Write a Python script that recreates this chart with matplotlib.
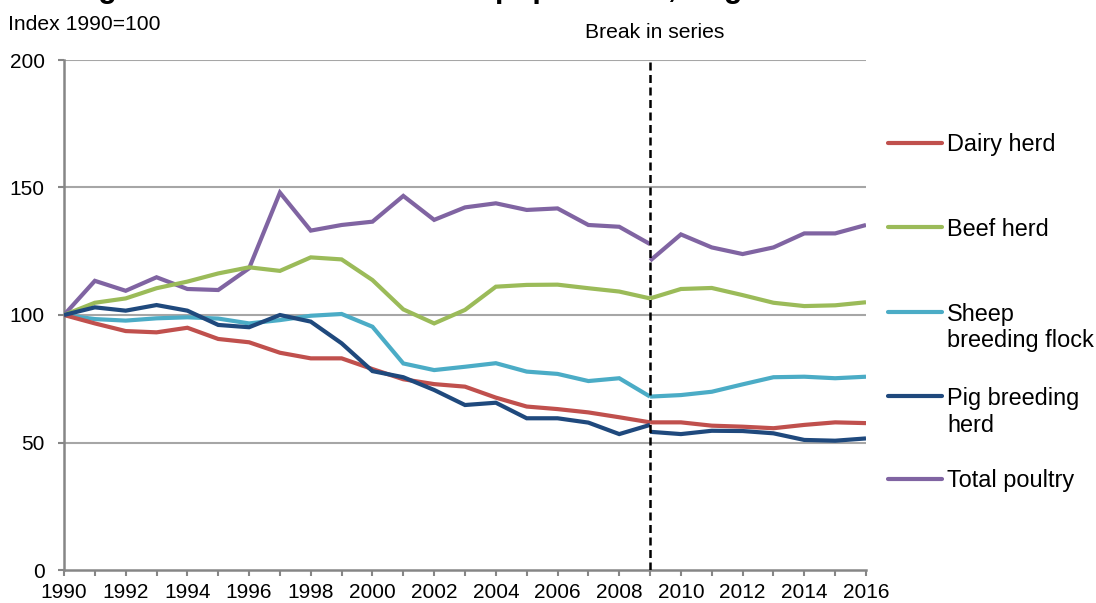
import matplotlib
matplotlib.use("Agg")
import matplotlib.pyplot as plt
from matplotlib.lines import Line2D

plt.rcParams['font.family'] = ['Liberation Sans', 'DejaVu Sans']

years_old = list(range(1990, 2010))
years_new = list(range(2009, 2017))

series_names = [["Dairy herd"], ["Beef herd"], ["Sheep", "breeding flock"], ["Pig breeding", "herd"], ["Total poultry"]]
series_colors = ["#C0504D", "#9BBB59", "#4BACC6", "#1F497D", "#8064A2"]

dairy_old = [100, 96.7, 93.7, 93.2, 95.0, 90.6, 89.3, 85.2, 83.0, 83.0, 78.8, 74.8, 72.9, 71.9, 67.6, 64.1, 63.1, 61.8, 59.9, 57.9]
dairy_new = [57.9, 57.9, 56.6, 56.2, 55.6, 56.9, 57.9, 57.6]

beef_old = [100, 104.8, 106.5, 110.5, 113.1, 116.3, 118.7, 117.3, 122.6, 121.8, 113.7, 102.2, 96.7, 102.0, 111.1, 111.8, 111.9, 110.5, 109.2, 106.5]
beef_new = [106.5, 110.2, 110.6, 107.8, 104.8, 103.5, 103.8, 105.0]

sheep_old = [100, 98.4, 97.8, 98.7, 99.1, 98.6, 96.7, 98.0, 99.7, 100.4, 95.4, 81.0, 78.4, 79.7, 81.1, 77.8, 76.9, 74.1, 75.2, 68.0]
sheep_new = [68.0, 68.6, 69.9, 72.8, 75.6, 75.8, 75.2, 75.8]

pig_old = [100, 103.0, 101.7, 103.9, 101.7, 96.1, 95.2, 100.0, 97.4, 88.9, 78.0, 75.6, 70.6, 64.7, 65.6, 59.5, 59.5, 57.8, 53.3, 56.9]
pig_new = [54.2, 53.3, 54.6, 54.5, 53.6, 51.0, 50.7, 51.6]

poultry_old = [100, 113.4, 109.5, 114.8, 110.2, 109.8, 118.3, 148.0, 133.1, 135.3, 136.6, 146.7, 137.3, 142.2, 143.8, 141.2, 141.8, 135.3, 134.6, 127.8]
poultry_new = [121.3, 131.6, 126.5, 123.9, 126.5, 132.0, 132.0, 135.3]

old_values = [dairy_old, beef_old, sheep_old, pig_old, poultry_old]
new_values = [dairy_new, beef_new, sheep_new, pig_new, poultry_new]

y_ticks = [0, 50, 100, 150, 200]
x_ticks = list(range(1990, 2017, 2))
break_year = 2009

W, H = 1096, 603
fig = plt.figure(figsize=(W / 100, H / 100), dpi=100)
ax = fig.add_axes([64 / W, 33 / H, (866 - 64) / W, 510 / H])

grid_c = "#A6A6A6"
axis_c = "#868686"
for yv in y_ticks[1:]:
    ax.axhline(yv, color=grid_c, lw=1.5, zorder=1)

order = [4, 1, 2, 0, 3]
for i in order:
    ax.plot(years_old, old_values[i], color=series_colors[i], lw=3.0, zorder=3,
            solid_capstyle='butt', solid_joinstyle='miter')
    ax.plot(years_new, new_values[i], color=series_colors[i], lw=3.0, zorder=3,
            solid_capstyle='butt', solid_joinstyle='miter')

ax.axvline(break_year, ymin=0, ymax=0.996, color="black", lw=1.8,
           linestyle=(0, (3.2, 1.8)), zorder=4)

ax.set_xlim(1990, 2016)
ax.set_ylim(0, 200)
ax.set_yticks(y_ticks)
ax.set_xticks(x_ticks)
ax.set_xticks(list(range(1990, 2017)), minor=True)
ax.tick_params(axis='both', which='both', direction='out', color=axis_c, width=1.5,
               labelsize=15, labelcolor='black')
ax.tick_params(axis='x', which='both', length=4, pad=5.5)
ax.tick_params(axis='y', which='both', length=4, pad=10)
for s in ['top', 'right']:
    ax.spines[s].set_visible(False)
for s in ['left', 'bottom']:
    ax.spines[s].set_color(axis_c)
    ax.spines[s].set_linewidth(1.8)
    ax.spines[s].set_zorder(2)

# Legend (manual, handles aligned with first text line)
leg_y = [143, 227, 312, 396, 479]
line_gap = 27
for i, lines in enumerate(series_names):
    yf = 1 - leg_y[i] / H
    fig.add_artist(Line2D([888 / W, 942 / W], [yf, yf], color=series_colors[i], lw=3.0,
                          transform=fig.transFigure, solid_capstyle='round'))
    for k, txt in enumerate(lines):
        fig.text(947 / W, 1 - (leg_y[i] + 8.5 + k * line_gap) / H, txt, fontsize=16.9,
                 va='baseline', ha='left')

fig.text(8 / W, 1 - 25 / H, "Index 1990=100", fontsize=15.2, va='center', ha='left')
fig.text(655 / W, 1 - 33 / H, "Break in series", fontsize=15.2, va='center', ha='center')

fig.text(22 / W, 1 + 3 / H, "Changes in the overall livestock populations, England", fontsize=22,
         fontweight='bold', va='baseline', ha='left')

fig.savefig("out.png", dpi=100)
